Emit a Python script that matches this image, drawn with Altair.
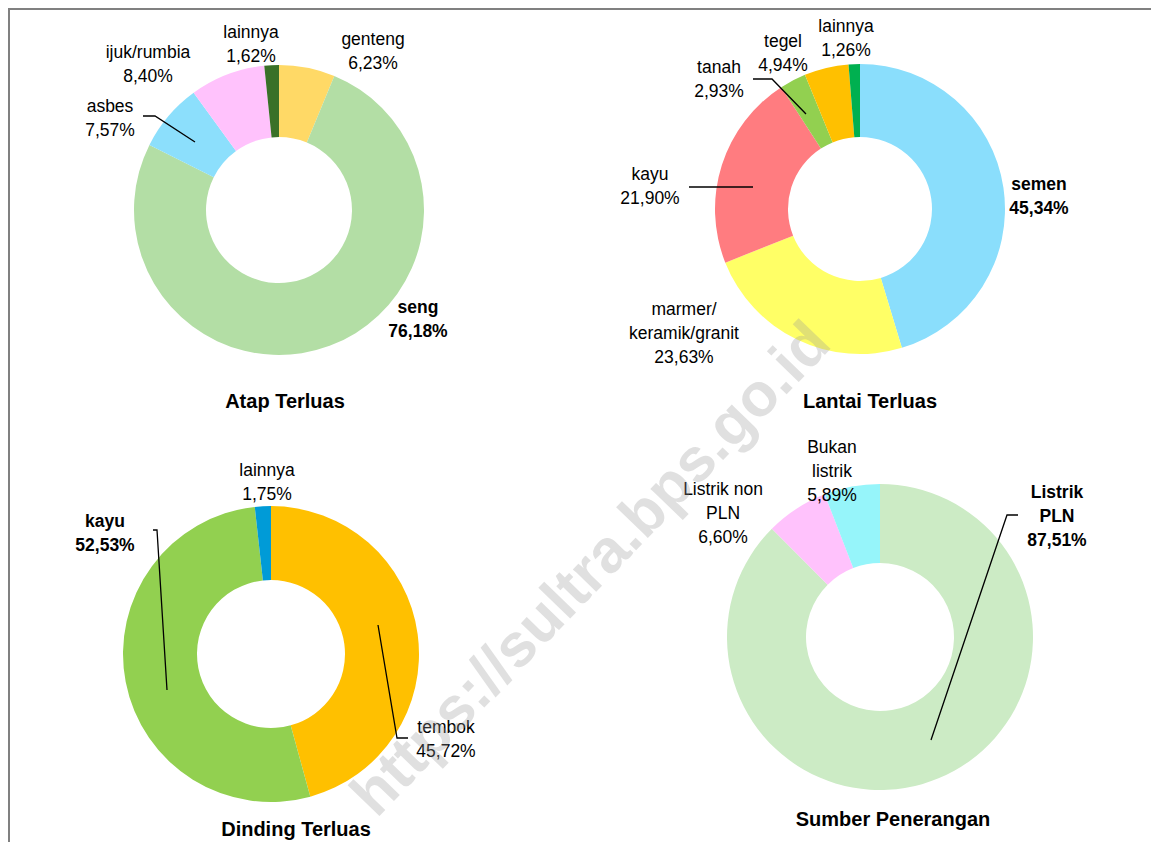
import altair as alt
import pandas as pd

FONT = "Liberation Sans Narrow, Arial Narrow, Liberation Sans, Arial, sans-serif"
W, H = 1143, 834
OFF = 8  # page margin; positions below are given in page pixels

# ---------------- data ----------------
atap_cat = ["genteng", "seng", "asbes", "ijuk/rumbia", "lainnya"]
atap_val = [6.23, 76.18, 7.57, 8.40, 1.62]
atap_col = ["#FFD966", "#B3DEA5", "#8CDFFC", "#FFC2FC", "#3A7128"]

lantai_cat = ["semen", "marmer/keramik/granit", "kayu", "tanah", "tegel", "lainnya"]
lantai_val = [45.34, 23.63, 21.90, 2.93, 4.94, 1.26]
lantai_col = ["#8ADEFC", "#FFFF66", "#FF7C80", "#92D050", "#FFC000", "#00B050"]

dinding_cat = ["tembok", "kayu", "lainnya"]
dinding_val = [45.72, 52.53, 1.75]
dinding_col = ["#FFC000", "#92D050", "#009BD7"]

sumber_cat = ["Listrik PLN", "Listrik non PLN", "Bukan listrik"]
sumber_val = [87.51, 6.60, 5.89]
sumber_col = ["#CCEBC5", "#FFC2FC", "#96F5FA"]

titles = ["Atap Terluas", "Lantai Terluas", "Dinding Terluas", "Sumber Penerangan"]

# labels: text, page x, page y (first line centre), bold
label_text = [
    "lainnya\n1,62%", "genteng\n6,23%", "ijuk/rumbia\n8,40%", "asbes\n7,57%", "seng\n76,18%",
    "lainnya\n1,26%", "tegel\n4,94%", "tanah\n2,93%", "kayu\n21,90%", "semen\n45,34%",
    "marmer/\nkeramik/granit\n23,63%",
    "lainnya\n1,75%", "kayu\n52,53%", "tembok\n45,72%",
    "Bukan\nlistrik\n5,89%", "Listrik non\nPLN\n6,60%", "Listrik\nPLN\n87,51%",
]
label_x = [251, 373, 148, 110, 418, 846, 783, 719, 650, 1039, 684, 267, 105, 446, 832, 723, 1057]
label_y = [33, 40, 53, 107, 308, 27, 42, 68, 175, 185, 310, 471, 522, 728, 448, 490, 493]
label_bold = [False, False, False, False, True, False, False, False, False, True, False,
              False, True, False, False, False, True]

title_x = [285, 870, 296, 893]
title_y = [402, 402, 830, 820]

# leader lines (page px)
leader_seg = [0, 0, 0, 1, 1, 1, 2, 2, 3, 3, 3, 4, 4, 4, 5, 5, 5]
leader_x = [143, 155, 195, 753, 772, 806, 689, 753, 153, 157, 167, 408, 397, 378, 1018, 1007, 931]
leader_y = [116, 116, 142, 79, 79, 114, 187, 187, 530, 530, 690, 738, 738, 625, 515, 515, 740]

# donut geometry: centre x, centre y, outer r, inner r (page px)
geo = {
    "atap": (279, 210, 145, 73),
    "lantai": (860, 209, 145, 72),
    "dinding": (271, 654, 148, 74),
    "sumber": (880, 637, 153, 74),
}


def donut(cats, vals, cols, g):
    cx, cy, ro, ri = g
    df = pd.DataFrame({"cat": cats, "value": vals, "color": cols,
                       "idx": list(range(len(cats)))})
    return alt.Chart(df).mark_arc(outerRadius=ro, innerRadius=ri).encode(
        theta=alt.Theta("value:Q", stack=True, scale=alt.Scale(domain=[0, 100])),
        order=alt.Order("idx:Q"),
        color=alt.Color("color:N", scale=None),
        x=alt.value(cx - OFF),
        y=alt.value(cy - OFF),
        tooltip=["cat:N", "value:Q"],
    )


layers = [
    donut(atap_cat, atap_val, atap_col, geo["atap"]),
    donut(lantai_cat, lantai_val, lantai_col, geo["lantai"]),
    donut(dinding_cat, dinding_val, dinding_col, geo["dinding"]),
    donut(sumber_cat, sumber_val, sumber_col, geo["sumber"]),
]

lab = pd.DataFrame({"text": label_text,
                    "x": [v - OFF for v in label_x],
                    "y": [v - OFF for v in label_y],
                    "bold": label_bold})

for is_bold in (False, True):
    sub = lab[lab["bold"] == is_bold]
    layers.append(
        alt.Chart(sub).mark_text(
            font=FONT, fontSize=17.5, lineBreak="\n", lineHeight=24,
            align="center", baseline="middle", color="#000000",
            fontWeight="bold" if is_bold else "normal",
        ).encode(
            x=alt.X("x:Q", scale=None, axis=None),
            y=alt.Y("y:Q", scale=None, axis=None),
            text="text:N",
        )
    )

tdf = pd.DataFrame({"text": titles,
                    "x": [v - OFF for v in title_x],
                    "y": [v - OFF for v in title_y]})
layers.append(
    alt.Chart(tdf).mark_text(
        font=FONT, fontSize=20, fontWeight="bold", align="center",
        baseline="middle", color="#000000",
    ).encode(
        x=alt.X("x:Q", scale=None, axis=None),
        y=alt.Y("y:Q", scale=None, axis=None),
        text="text:N",
    )
)

ldf = pd.DataFrame({"seg": leader_seg,
                    "pt": list(range(len(leader_seg))),
                    "x": [v - OFF for v in leader_x],
                    "y": [v - OFF for v in leader_y]})
layers.append(
    alt.Chart(ldf).mark_line(color="#000000", strokeWidth=1.3).encode(
        x=alt.X("x:Q", scale=None, axis=None),
        y=alt.Y("y:Q", scale=None, axis=None),
        detail="seg:N",
        order="pt:Q",
    )
)

# page frame (top and left border)
frame = pd.DataFrame({"a": [0]})
layers.append(
    alt.Chart(frame).mark_rule(color="#808080", strokeWidth=2).encode(
        x=alt.value(1), y=alt.value(0), y2=alt.value(H)
    )
)
layers.append(
    alt.Chart(frame).mark_rule(color="#808080", strokeWidth=2).encode(
        x=alt.value(0), x2=alt.value(W), y=alt.value(1)
    )
)

# watermark
wm = pd.DataFrame({"text": ["https://sultra.bps.go.id"]})
layers.append(
    alt.Chart(wm).mark_text(
        font="Liberation Sans, Arial, sans-serif", fontSize=61, fontWeight="bold",
        angle=314, align="center", baseline="middle", color="#9a9a9a", opacity=0.3,
    ).encode(
        x=alt.value(592 - OFF), y=alt.value(570 - OFF), text="text:N"
    )
)

chart = alt.layer(*layers).resolve_scale(theta="independent").properties(
    width=W, height=H, autosize=alt.AutoSizeParams(type="none"), padding=0,
    background="#ffffff",
).configure_view(stroke=None)

chart.save("out.html", embed_options={"renderer": "svg", "actions": False})
